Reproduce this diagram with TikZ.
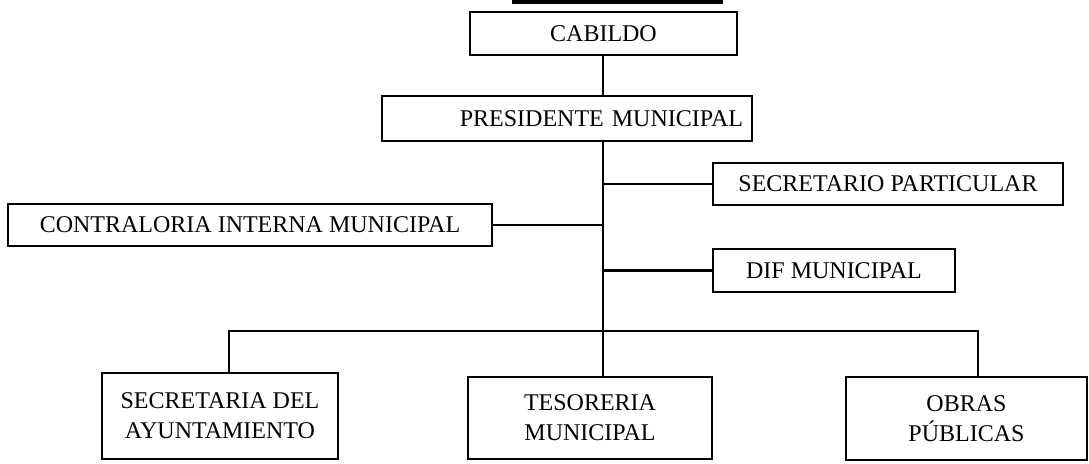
\documentclass[tikz,border=0pt]{standalone}
\usepackage{fontspec}
\setmainfont{Liberation Serif}
\usepackage{tikz}
\usetikzlibrary{positioning, calc}

\begin{document}
\begin{tikzpicture}[x=0.5pt, y=-0.5pt,
    cargo/.style={draw, line width=1pt, inner sep=0pt, font=\fontsize{12}{15}\selectfont, align=center},
    linea/.style={line width=1.1pt}]
\useasboundingbox (0,0) rectangle (1089,464);

% top of the chart (cut off)
\draw[line width=1.6pt] (512,2) -- (723,2);

% upper levels
\node[cargo, minimum width=133.5pt, minimum height=21.5pt] (cabildo) at (603.5,33.5) {CABILDO};
\node[cargo, minimum height=22.5pt, text width=176pt, inner xsep=4.5pt, align=right] (presidente) at (567,118.5) {PRESIDENTE MUNICIPAL};

% staff units
\node[cargo, minimum width=175pt, minimum height=21pt] (secpart) at (888,184) {SECRETARIO PARTICULAR};
\node[cargo, minimum width=242pt, minimum height=21pt] (contraloria) at (250,225) {CONTRALORIA INTERNA MUNICIPAL};
\node[cargo, minimum width=121pt, minimum height=21.5pt] (dif) at (834,270.5) {DIF MUNICIPAL};

% line units
\node[cargo, minimum width=118pt, minimum height=43pt] (secayun) at (220,416) {SECRETARIA DEL\\AYUNTAMIENTO};
\node[cargo, minimum width=122pt, minimum height=41pt] (tesoreria) at (590,418) {TESORERIA\\MUNICIPAL};
\node[cargo, minimum width=120.5pt, minimum height=41.5pt] (obras) at (966.5,418.5) {OBRAS\\PÚBLICAS};

% connectors
\coordinate (trunk) at (603,331);
\draw[linea] (cabildo.south -| trunk) -- (presidente.north -| trunk);
\draw[linea] (presidente.south -| trunk) -- (tesoreria.north -| trunk);
\draw[linea] (secpart.west) -- (secpart.west -| trunk);
\draw[linea] (contraloria.east) -- (contraloria.east -| trunk);
\draw[linea] (dif.west) -- (dif.west -| trunk);
\draw[linea] ([xshift=4.5pt]secayun.north) -- ([xshift=4.5pt]secayun.north |- trunk)
    -- ([xshift=5.75pt]obras.north |- trunk) -- ([xshift=5.75pt]obras.north);
\end{tikzpicture}
\end{document}
